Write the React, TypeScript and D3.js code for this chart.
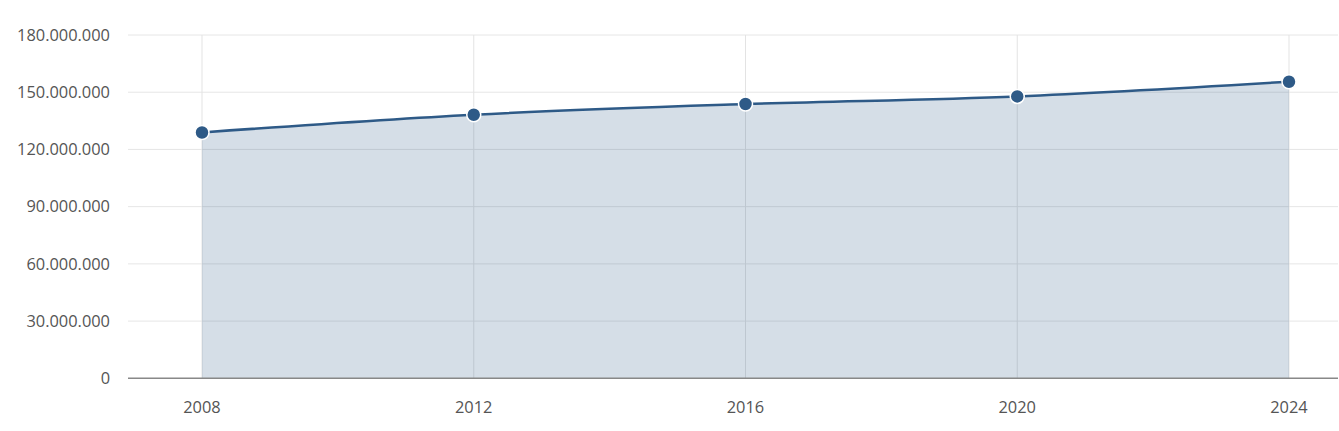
import React from "react";
import * as d3 from "d3";

const years = [2008, 2012, 2016, 2020, 2024];
const values = [128900000, 138200000, 143800000, 147800000, 155500000];
const yTicks = [0, 30000000, 60000000, 90000000, 120000000, 150000000, 180000000];

const W = 1339;
const H = 431;
const plotLeft = 128;
const plotRight = 1338;

export default function App() {
  const x = d3.scaleLinear().domain([2008, 2024]).range([202, 1289]);
  const y = d3.scaleLinear().domain([0, 180000000]).range([378.3, 35]);
  const fmt = (v: number) => (v === 0 ? "0" : d3.format(",")(v).replace(/,/g, "."));
  const pts = years.map((yr, i) => [yr, values[i]] as [number, number]);
  const line = d3
    .line<[number, number]>()
    .x((d) => x(d[0]))
    .y((d) => y(d[1]))
    .curve(d3.curveMonotoneX);
  const area = d3
    .area<[number, number]>()
    .x((d) => x(d[0]))
    .y0(y(0))
    .y1((d) => y(d[1]))
    .curve(d3.curveMonotoneX);
  const font = "'Open Sans', 'Noto Sans', sans-serif";
  return (
    <svg
      width={W}
      height={H}
      style={{ position: "absolute", left: 0, top: 0, display: "block", background: "#fff" }}
      fontFamily={font}
    >
      {yTicks.map((t) => (
        <g key={t}>
          {t !== 0 && (
            <line x1={plotLeft} x2={plotRight} y1={y(t)} y2={y(t)} stroke="#e6e6e6" strokeWidth={1} />
          )}
          <text x={110} y={y(t)} dy="0.35em" textAnchor="end" fontSize={16.4} fill="#555">
            {fmt(t)}
          </text>
        </g>
      ))}
      {years.map((yr) => (
        <line key={yr} x1={x(yr)} x2={x(yr)} y1={y(180000000)} y2={y(0)} stroke="#e3e3e3" strokeWidth={1} />
      ))}
      <path d={area(pts) || ""} fill="#2e5a87" fillOpacity={0.2} />
      <path d={line(pts) || ""} fill="none" stroke="#2e5a87" strokeWidth={2.5} />
      <line x1={plotLeft} x2={plotRight} y1={y(0)} y2={y(0)} stroke="#888" strokeWidth={1.5} />
      {pts.map((p) => (
        <circle key={p[0]} cx={x(p[0])} cy={y(p[1])} r={7} fill="#2e5a87" stroke="#fff" strokeWidth={1.5} />
      ))}
      {years.map((yr) => (
        <text key={yr} x={x(yr)} y={413} textAnchor="middle" fontSize={16.4} fill="#555">
          {yr}
        </text>
      ))}
    </svg>
  );
}
